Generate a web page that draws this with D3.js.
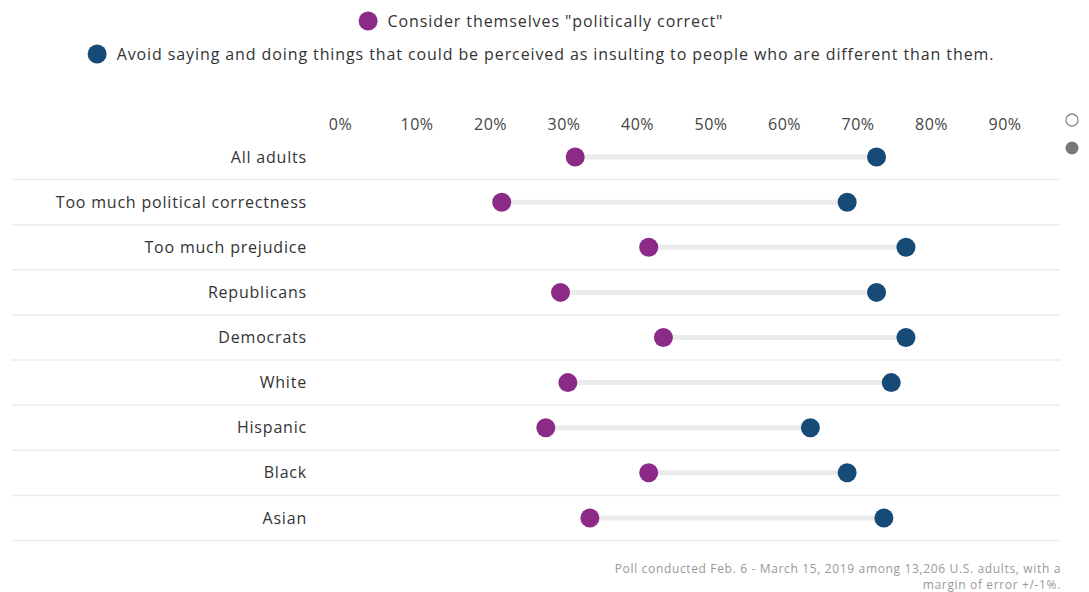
<!DOCTYPE html>
<html>
<head>
<meta charset="utf-8">
<script src="https://cdn.jsdelivr.net/npm/d3@7"></script>
<style>
  html, body { margin: 0; padding: 0; background: #fff; }
  svg { display: block; font-family: "Open Sans", Lato, sans-serif; }
</style>
</head>
<body>
<svg id="chart" width="1089" height="592"></svg>
<script>
// Groups, top to bottom
const groups = [
  "All adults",
  "Too much political correctness",
  "Too much prejudice",
  "Republicans",
  "Democrats",
  "White",
  "Hispanic",
  "Black",
  "Asian"
];
// Share who consider themselves "politically correct" (%)
const politicallyCorrect = [32, 22, 42, 30, 44, 31, 28, 42, 34];
// Share who avoid saying/doing things perceived as insulting (%)
const avoidInsulting = [73, 69, 77, 73, 77, 75, 64, 69, 74];

const tickValues = [0, 10, 20, 30, 40, 50, 60, 70, 80, 90];
const seriesNames = [
  'Consider themselves "politically correct"',
  "Avoid saying and doing things that could be perceived as insulting to people who are different than them."
];
const seriesColors = ["#8c2a87", "#164b77"];

const svg = d3.select("#chart");

// Scales
const x = d3.scaleLinear().domain([0, 100]).range([340, 1075]);
const y = d3.scaleBand().domain(groups).range([134.5, 540.5]).paddingInner(0).paddingOuter(0);

// Legend
const legend = svg.append("g");
const legendRows = [
  { name: seriesNames[0], color: seriesColors[0], y: 21 },
  { name: seriesNames[1], color: seriesColors[1], y: 54 }
];
legendRows.forEach(r => {
  const g = legend.append("g");
  const t = g.append("text")
    .attr("y", r.y)
    .attr("dy", "0.35em")
    .attr("font-size", 16)
    .attr("letter-spacing", 0.9)
    .attr("fill", "#333")
    .text(r.name);
  const w = t.node().getComputedTextLength();
  const total = 19 + 10 + w;
  const left = 541 - total / 2;
  g.append("circle").attr("cx", left + 9.5).attr("cy", r.y).attr("r", 9.5).attr("fill", r.color);
  t.attr("x", left + 29);
});

// Top axis
const axis = d3.axisTop(x)
  .tickValues(tickValues)
  .tickFormat(d => d + "%")
  .tickSize(0)
  .tickPadding(0);
const axisG = svg.append("g")
  .attr("transform", "translate(0,130)")
  .call(axis);
axisG.select(".domain").remove();
axisG.selectAll("text")
  .attr("font-family", "'Open Sans', Lato, sans-serif")
  .attr("font-size", 16)
  .attr("letter-spacing", 0.5)
  .attr("fill", "#444")
  .attr("dx", (d) => d === 0 ? 0 : 3);

// Row separators (below each row)
svg.append("g")
  .selectAll("line")
  .data(groups)
  .join("line")
  .attr("x1", 12)
  .attr("x2", 1060)
  .attr("y1", d => y(d) + y.bandwidth())
  .attr("y2", d => y(d) + y.bandwidth())
  .attr("stroke", "#ececec")
  .attr("stroke-width", 1.5);

// Row labels
svg.append("g")
  .selectAll("text")
  .data(groups)
  .join("text")
  .attr("x", 307)
  .attr("y", d => y(d) + y.bandwidth() / 2)
  .attr("dy", "0.35em")
  .attr("text-anchor", "end")
  .attr("font-size", 16)
  .attr("letter-spacing", 0.8)
  .attr("fill", "#333")
  .text(d => d);

const rows = groups.map((g, i) => ({ g, a: politicallyCorrect[i], b: avoidInsulting[i] }));

// Connecting bars
svg.append("g")
  .selectAll("line")
  .data(rows)
  .join("line")
  .attr("x1", d => x(d.a))
  .attr("x2", d => x(d.b))
  .attr("y1", d => y(d.g) + y.bandwidth() / 2)
  .attr("y2", d => y(d.g) + y.bandwidth() / 2)
  .attr("stroke", "#ebebeb")
  .attr("stroke-width", 5);

// Dots
const dots = svg.append("g");
dots.selectAll("circle.pc")
  .data(rows)
  .join("circle")
  .attr("class", "pc")
  .attr("cx", d => x(d.a))
  .attr("cy", d => y(d.g) + y.bandwidth() / 2)
  .attr("r", 9.5)
  .attr("fill", seriesColors[0]);
dots.selectAll("circle.av")
  .data(rows)
  .join("circle")
  .attr("class", "av")
  .attr("cx", d => x(d.b))
  .attr("cy", d => y(d.g) + y.bandwidth() / 2)
  .attr("r", 9.5)
  .attr("fill", seriesColors[1]);

// Small toggle markers at the right edge
svg.append("circle").attr("cx", 1072).attr("cy", 120).attr("r", 6)
  .attr("fill", "#fff").attr("stroke", "#888").attr("stroke-width", 1.3);
svg.append("circle").attr("cx", 1072).attr("cy", 148).attr("r", 6.5)
  .attr("fill", "#777");

// Source note
const note = svg.append("text")
  .attr("text-anchor", "end")
  .attr("font-size", 12)
  .attr("letter-spacing", 0.65)
  .attr("fill", "#999");
note.append("tspan").attr("x", 1061).attr("y", 573)
  .text("Poll conducted Feb. 6 - March 15, 2019 among 13,206 U.S. adults, with a");
note.append("tspan").attr("x", 1061).attr("y", 589)
  .text("margin of error +/-1%.");
</script>
</body>
</html>
